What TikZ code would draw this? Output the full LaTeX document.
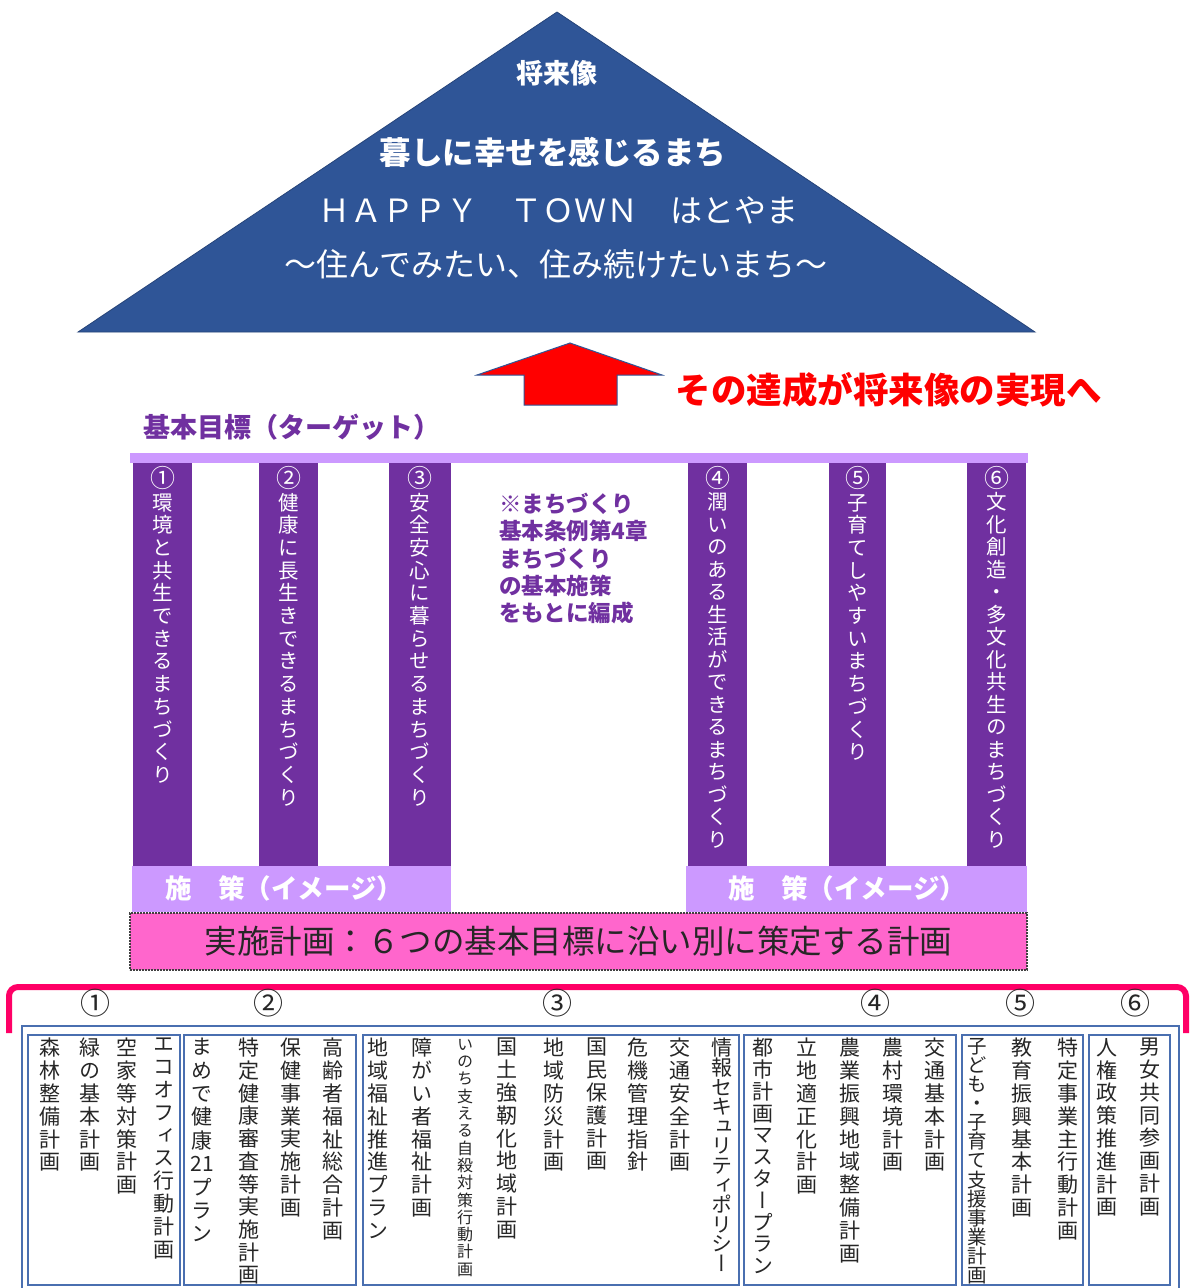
\documentclass[tikz,border=0pt]{standalone}
\usepackage{fontspec}
\newfontfamily\jp{Noto Sans CJK JP}
\newfontfamily\jpv{Noto Sans CJK JP}[RawFeature=+vert]
\definecolor{tri}{HTML}{2F5597}
\definecolor{dpur}{HTML}{7030A0}
\definecolor{lpur}{HTML}{CC99FF}
\definecolor{pinkf}{HTML}{FF66CC}
\definecolor{crim}{HTML}{FF0066}
\definecolor{boxb}{HTML}{4A6FB0}
\ExplSyntaxOn
\NewDocumentCommand\vcol{m m}{
  \vtop{
    \baselineskip=#1\relax
    \lineskiplimit=-\maxdimen
    \tl_map_inline:nn {#2}{\hbox_to_wd:nn{0pt}{\hss ##1\hss}}
  }
}
\ExplSyntaxOff
\newcommand\bignum[1]{{\fontsize{25}{25}\selectfont #1}}
\tikzset{
  fs/.style={font=\jp\fontsize{#1}{#1}\selectfont},
  fsb/.style={font=\jp\bfseries\fontsize{#1}{#1}\selectfont},
  col/.style={anchor=north, inner sep=0pt, text=black!85, font=\jpv\fontsize{21}{21}\selectfont},
  smallcol/.style={anchor=north, inner sep=0pt, text=black!85, font=\jpv\fontsize{16}{16}\selectfont},
  pilltxt/.style={anchor=north, inner sep=0pt, text=white, font=\jpv\fontsize{20.5}{20.5}\selectfont},
  pillar/.style={fill=dpur},
  planbox/.style={draw=boxb, line width=1.2pt},
  num/.style={inner sep=0pt, text=black!85, font=\jp\fontsize{30}{30}\selectfont},
}
\begin{document}
\begin{tikzpicture}[x=1pt,y=-1pt]
\useasboundingbox[fill=white] (0,0) rectangle (1189,1288);
% roof
\filldraw[fill=tri, draw=tri!80!black, line width=0.8pt] (557,12) -- (1035,332) -- (78,332) -- cycle;
\node[fsb=27, text=white] (vision) at (557,73) {将来像};
\node[fsb=31.5, text=white] (slogan) at (553,152) {暮しに幸せを感じるまち};
\node[fs=32, text=white] (happy) at (558,210) {ＨＡＰＰＹ　ＴＯＷＮ　はとやま};
\node[fs=32, text=white] (sub) at (556,264) {～住んでみたい、住み続けたいまち～};
% arrow
\filldraw[fill=red, draw=tri, line width=1pt] (570,343) -- (662,375) -- (617,375) -- (617,405) -- (524,405) -- (524,375) -- (477,375) -- cycle;
\node[fsb=35.5, text=red, anchor=west] (goal) at (672,390) {その達成が将来像の実現へ};
% targets heading
\node[fsb=27, text=dpur, anchor=west] (target) at (140,427) {基本目標（ターゲット）};
\fill[lpur] (130,453) rectangle (1028,463);
% pillars
\fill[pillar] (133,463) rectangle (192,866);
\fill[pillar] (259,463) rectangle (318,866);
\fill[pillar] (389,463) rectangle (451,866);
\fill[pillar] (688,463) rectangle (747,866);
\fill[pillar] (829,463) rectangle (886,866);
\fill[pillar] (967,463) rectangle (1026,866);
\node[pilltxt] (g1) at (162.5,466) {\vcol{22.7pt}{{\bignum{①}}環境と共生できるまちづくり}};
\node[pilltxt] (g2) at (288.5,466) {\vcol{22.7pt}{{\bignum{②}}健康に長生きできるまちづくり}};
\node[pilltxt] (g3) at (420,466) {\vcol{22.7pt}{{\bignum{③}}安全安心に暮らせるまちづくり}};
\node[pilltxt] (g4) at (717.5,466) {\vcol{22.5pt}{{\bignum{④}}潤いのある生活ができるまちづくり}};
\node[pilltxt] (g5) at (857.5,466) {\vcol{22.7pt}{{\bignum{⑤}}子育てしやすいまちづくり}};
\node[pilltxt] (g6) at (996.5,466) {\vcol{22.5pt}{{\bignum{⑥}}文化創造・多文化共生のまちづくり}};
% note
\node[anchor=north west, align=left, inner sep=0pt, text=dpur, font=\jp\bfseries\fontsize{22.5}{27.2}\selectfont] (note) at (499,493) {※まちづくり\\基本条例第4章\\まちづくり\\の基本施策\\をもとに編成};
% measures
\fill[lpur] (132,866) rectangle (451,912);
\fill[lpur] (686,866) rectangle (1027,912);
\node[fsb=26.5, text=white] (m1) at (284,888) {施　策（イメージ）};
\node[fsb=26.5, text=white] (m2) at (847,888) {施　策（イメージ）};
% implementation
\node[draw=black!75, dash pattern=on 2pt off 1pt, line width=1.6pt, fill=pinkf, minimum width=897, minimum height=57, inner sep=0pt, fs=32.5, text=black!85] (impl) at (578.5,941.5) {実施計画：６つの基本目標に沿い別に策定する計画};
% bracket
\draw[crim, line width=6pt, rounded corners=9pt] (9,1033) -- (9,987) -- (1186,987) -- (1186,1033);
\node[num] (n1) at (95,1003) {①};
\node[num] (n2) at (268,1003) {②};
\node[num] (n3) at (557,1003) {③};
\node[num] (n4) at (875,1003) {④};
\node[num] (n5) at (1020,1003) {⑤};
\node[num] (n6) at (1135,1003) {⑥};
% plan boxes
\draw[planbox] (22,1295) -- (22,1026) -- (1179,1026) -- (1179,1295);
\draw[planbox] (28,1035) rectangle (180,1285);
\draw[planbox] (184,1035) rectangle (356,1285);
\draw[planbox] (363,1035) rectangle (739,1285);
\draw[planbox] (744,1035) rectangle (956,1285);
\draw[planbox] (962,1035) rectangle (1083,1285);
\draw[planbox] (1089,1035) rectangle (1170,1285);
% box 1
\node[col] (a1) at (164,1038) {\vcol{22.8pt}{エコオフィス行動計画}};
\node[col] (a2) at (127,1038) {\vcol{22.8pt}{空家等対策計画}};
\node[col] (a3) at (90,1038) {\vcol{22.8pt}{緑の基本計画}};
\node[col] (a4) at (50,1038) {\vcol{22.8pt}{森林整備計画}};
% box 2
\node[col] (b1) at (333,1038) {\vcol{22.8pt}{高齢者福祉総合計画}};
\node[col] (b2) at (291,1038) {\vcol{22.8pt}{保健事業実施計画}};
\node[col] (b3) at (249,1038) {\vcol{22.7pt}{特定健康審査等実施計画}};
\node[col] (b4) at (202,1038) {\vcol{23.4pt}{まめで健康{21}プラン}};
% box 3
\node[col] (c1) at (722,1038) {\vcol{19.6pt}{情報セキュリティポリシー}};
\node[col] (c2) at (680,1038) {\vcol{22.8pt}{交通安全計画}};
\node[col] (c3) at (638,1038) {\vcol{22.8pt}{危機管理指針}};
\node[col] (c4) at (597,1038) {\vcol{22.8pt}{国民保護計画}};
\node[col] (c5) at (554,1038) {\vcol{22.8pt}{地域防災計画}};
\node[col] (c6) at (507,1038) {\vcol{22.8pt}{国土強靭化地域計画}};
\node[smallcol] (c7) at (465,1039) {\vcol{17.3pt}{いのち支える自殺対策行動計画}};
\node[col] (c8) at (422,1038) {\vcol{22.8pt}{障がい者福祉計画}};
\node[col] (c9) at (378,1038) {\vcol{22.8pt}{地域福祉推進プラン}};
% box 4
\node[col] (d1) at (935,1038) {\vcol{22.8pt}{交通基本計画}};
\node[col] (d2) at (893,1038) {\vcol{22.8pt}{農村環境計画}};
\node[col] (d3) at (850,1038) {\vcol{22.8pt}{農業振興地域整備計画}};
\node[col] (d4) at (807,1038) {\vcol{22.8pt}{立地適正化計画}};
\node[col] (d5) at (763,1038) {\vcol{21.8pt}{都市計画マスタープラン}};
% box 5
\node[col] (e1) at (1068,1038) {\vcol{22.8pt}{特定事業主行動計画}};
\node[col] (e2) at (1022,1038) {\vcol{22.8pt}{教育振興基本計画}};
\node[col, font=\jpv\fontsize{19.5}{19.5}\selectfont] (e3) at (977,1038) {\vcol{19.1pt}{子ども・子育て支援事業計画}};
% box 6
\node[col] (f1) at (1150,1038) {\vcol{22.8pt}{男女共同参画計画}};
\node[col] (f2) at (1107,1038) {\vcol{22.8pt}{人権政策推進計画}};
\end{tikzpicture}
\end{document}
